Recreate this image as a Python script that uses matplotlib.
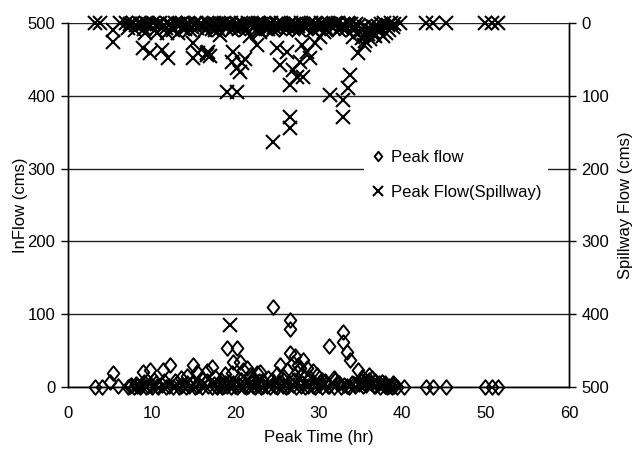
import matplotlib
matplotlib.use("Agg")
import matplotlib.pyplot as plt
from matplotlib.path import Path
from matplotlib import font_manager

names = {f.name for f in font_manager.fontManager.ttflist}
fam = ['Liberation Sans Narrow', 'Liberation Sans', 'DejaVu Sans']
fam = [f for f in fam if f in names] or ['DejaVu Sans']
plt.rcParams['font.family'] = fam

# ---------------- data ----------------
# Peak inflow (left axis): peak time (hr) and inflow (cms)
inflow_time = [3.2, 4.1, 6.0, 7.2, 7.6, 7.9, 8.3, 8.6, 8.9, 9.3, 9.6, 10.1, 10.5, 10.8,
               11.2, 11.7, 12.1, 12.6, 13.0, 13.3, 13.7, 14.1, 14.5, 14.8, 15.2, 15.7,
               16.1, 16.4, 16.8, 17.2, 17.5, 17.9, 18.2, 18.5, 18.8, 19.1, 19.5, 19.8,
               20.2, 20.5, 20.9, 21.3, 21.6, 22.0, 22.4, 22.7, 23.1, 23.5, 23.8, 24.2,
               24.6, 25.0, 25.3, 25.7, 26.1, 26.5, 26.9, 27.3, 27.7, 28.0, 28.4, 28.8,
               29.2, 29.6, 30.0, 30.4, 30.9, 31.3, 31.8, 32.2, 32.7, 33.1, 33.6, 34.0,
               34.4, 34.8, 35.1, 35.4, 35.7, 36.0, 36.3, 36.6, 37.0, 37.4, 37.8, 38.2,
               38.5, 38.8, 39.1, 39.4, 40.2, 42.9, 43.7, 45.3, 49.9, 50.8, 51.5,
               7.4, 8.1, 8.7, 9.1, 9.9, 10.7, 11.5, 13.5, 14.3, 15.5, 16.6, 17.7, 18.0,
               18.7, 19.3, 20.0, 20.7, 21.1, 21.9, 22.2, 22.9, 23.3, 24.4, 24.8, 25.5,
               26.3, 27.1, 27.9, 28.6, 29.4, 30.2, 31.1, 32.0, 33.4, 34.2, 35.3, 35.9,
               36.8, 37.6, 38.0, 38.9,
               5.0, 5.4, 9.0, 9.8, 10.3, 11.4, 12.2, 12.8, 13.5, 14.2, 15.0, 15.4, 16.0,
               16.6, 17.2, 17.6, 18.3, 18.8, 19.0, 20.2, 19.8, 20.6, 19.6, 21.0, 21.4,
               21.8, 22.6, 22.0, 23.0, 23.4, 24.0, 24.6, 25.0, 25.4, 25.8, 26.2, 26.6,
               26.6, 26.6, 27.0, 27.2, 27.4, 27.6, 28.2, 27.8, 28.0, 28.6, 29.0, 29.4,
               29.8, 30.4, 30.8, 31.3, 31.8, 32.4, 32.9, 32.9, 33.4, 33.8, 34.7, 35.2,
               35.6, 36.0, 36.4, 36.8, 37.2, 38.0, 39.0]
inflow_cms = [0, 0, 2, 0, 3, 0, 2, 0, 4, 0, 2, 0, 5, 0,
              3, 0, 2, 0, 6, 0, 3, 0, 2, 5, 0, 3,
              0, 6, 2, 0, 4, 0, 3, 0, 5, 2, 0, 6,
              0, 3, 5, 0, 2, 6, 0, 3, 0, 5, 2, 0,
              4, 0, 6, 2, 0, 5, 3, 0, 4, 6, 0, 2,
              5, 0, 3, 0, 4, 2, 0, 5, 0, 3, 0, 6,
              2, 4, 8, 5, 3, 9, 6, 2, 4, 0, 3, 0,
              2, 0, 2, 0, 0, 0, 0, 0, 0, 0, 0,
              1, 4, 1, 7, 3, 1, 8, 1, 6, 1, 8, 1, 4,
              1, 7, 1, 9, 1, 7, 1, 8, 1, 9, 1, 7,
              1, 9, 1, 8, 1, 7, 1, 9, 1, 4, 1, 7,
              1, 7, 1, 5,
              7, 19, 20, 23, 10, 23, 30, 8, 12, 15, 30, 20, 12,
              22, 28, 14, 10, 18, 53, 53, 35, 35, 19, 23, 26,
              16, 19, 10, 20, 8, 12, 110, 18, 30, 15, 24, 92,
              80, 47, 33, 42, 20, 30, 37, 26, 18, 26, 12, 22,
              16, 10, 8, 57, 12, 6, 76, 62, 48, 37, 23, 14,
              10, 16, 12, 8, 6, 5, 4]

# Peak spillway flow (right axis, inverted): peak time (hr) and flow (cms)
spill_time = [3.2, 3.8, 6.2, 7.0, 7.4, 7.8, 8.2, 8.5, 8.9, 9.4, 9.8, 10.2, 10.6, 11.0,
              11.5, 11.9, 12.4, 12.8, 13.2, 13.6, 14.0, 14.4, 14.8, 15.3, 15.8, 16.2,
              16.7, 17.1, 17.5, 17.9, 18.3, 18.7, 19.1, 19.5, 19.9, 20.3, 20.7, 21.1,
              21.5, 21.9, 22.3, 22.7, 23.1, 23.5, 23.9, 24.3, 24.7, 25.1, 25.5, 25.9,
              26.3, 26.7, 27.1, 27.5, 27.9, 28.3, 28.7, 29.1, 29.5, 29.9, 30.3, 30.7,
              31.1, 31.5, 31.9, 32.3, 32.7, 33.1, 33.5, 33.9, 34.3, 34.7, 35.1, 35.5,
              35.9, 36.3, 36.7, 37.1, 37.5, 37.9, 38.3, 38.7, 39.1, 39.8, 42.9, 43.7,
              45.3, 49.9, 50.8, 51.5,
              7.2, 7.6, 8.0, 8.7, 9.1, 9.6, 10.4, 10.9, 11.7, 12.2, 12.6, 13.4, 13.8,
              14.2, 14.6, 15.1, 15.5, 16.0, 16.4, 16.9, 17.3, 17.7, 18.1, 18.5, 18.9,
              19.3, 19.7, 20.1, 20.5, 20.9, 21.3, 21.7, 22.1, 22.5, 22.9, 23.3, 23.7,
              24.1, 24.5, 24.9, 25.3, 25.7, 26.1, 26.5, 26.9, 27.3, 27.7, 28.1, 28.5,
              28.9, 29.3, 29.7, 30.1, 30.5, 30.9, 31.3, 31.7, 32.1, 32.5, 32.9, 33.3,
              33.7, 34.1, 34.5, 35.0, 35.7, 36.1, 36.6, 37.3, 37.7, 38.1, 38.5, 38.9,
              5.4, 5.4, 9.0, 9.2, 9.8, 10.7, 11.3, 11.9, 12.0, 13.2, 14.0, 15.0, 15.0,
              15.6, 16.6, 16.6, 16.8, 17.0, 17.6, 18.2, 19.8, 19.6, 20.2, 20.8, 21.2,
              20.6, 21.8, 22.6, 23.0, 24.0, 19.0, 20.2, 25.0, 25.4, 26.2, 26.6, 27.0,
              27.4, 28.2, 27.8, 28.0, 28.6, 29.0, 29.6, 30.2, 30.6, 31.0, 24.6, 26.6,
              26.6, 31.4, 32.9, 32.9, 33.5, 33.8, 34.7, 34.1, 35.2, 35.4, 35.6, 35.9,
              36.2, 36.5, 36.8, 37.2, 19.4]
spill_cms = [0, 0, 0, 0, 2, 0, 3, 0, 2, 0, 4, 0, 2, 0,
             3, 0, 5, 0, 2, 0, 3, 0, 6, 0, 2, 4,
             0, 3, 0, 5, 2, 0, 3, 0, 6, 2, 0, 4,
             0, 3, 5, 0, 2, 0, 4, 0, 6, 2, 0, 3,
             5, 0, 2, 4, 0, 6, 3, 0, 2, 5, 0, 3,
             0, 4, 2, 0, 5, 3, 0, 2, 6, 4, 8, 5,
             10, 3, 6, 4, 2, 0, 3, 0, 2, 0, 0, 0,
             0, 0, 0, 0,
             7, 1, 9, 1, 8, 1, 10, 1, 7, 1, 9, 1, 8,
             1, 10, 1, 7, 1, 9, 1, 8, 1, 10, 1, 7,
             1, 9, 1, 8, 1, 10, 1, 7, 1, 9, 1, 8,
             1, 10, 1, 7, 1, 9, 1, 8, 1, 10, 1, 7,
             1, 9, 1, 8, 1, 10, 1, 7, 1, 9, 1, 8,
             1, 10, 1, 12, 14, 9, 16, 12, 18, 14, 9, 6,
             10, 26, 34, 14, 41, 14, 37, 14, 48, 14, 8, 28, 48,
             41, 41, 44, 40, 46, 10, 16, 40, 54, 62, 55, 50,
             67, 18, 30, 12, 8, 95, 95, 34, 58, 40, 85, 65,
             74, 74, 54, 30, 40, 48, 28, 19, 12, 8, 163, 129,
             144, 99, 106, 129, 89, 71, 41, 19, 20, 30, 25, 15,
             22, 12, 18, 8, 415]

x_ticks = [0, 10, 20, 30, 40, 50, 60]
y_ticks = [0, 100, 200, 300, 400, 500]

# ---------------- plot ----------------
fig = plt.figure(figsize=(6.38, 4.53), dpi=100)
ax = fig.add_axes([68/638, 1-387/453, (569-68)/638, (387-23)/453])
ax2 = ax.twinx()

diamond = Path([(0, 1), (0.8, 0), (0, -1), (-0.8, 0), (0, 1)],
               [Path.MOVETO, Path.LINETO, Path.LINETO, Path.LINETO, Path.CLOSEPOLY])

ax.set_xlim(0, 60)
ax.set_ylim(0, 500)
ax.set_xticks(x_ticks)
ax.set_yticks(y_ticks)
ax.grid(axis='y', color='#222222', linewidth=1.0)
ax.set_axisbelow(True)
h1, = ax.plot(inflow_time, inflow_cms, linestyle='none', marker=diamond,
              markersize=10.5, markerfacecolor='none', markeredgecolor='black',
              markeredgewidth=1.4, label='Peak flow', clip_on=False, zorder=3)

ax2.set_ylim(500, 0)
ax2.set_yticks(y_ticks)
h2, = ax2.plot(spill_time, spill_cms, linestyle='none', marker='x',
               markersize=10, markeredgecolor='black', markeredgewidth=1.5,
               label='Peak Flow(Spillway)', clip_on=False, zorder=3)

for a in (ax, ax2):
    a.spines['top'].set_visible(False)
    for s in ('left', 'right', 'bottom'):
        a.spines[s].set_color('black')
        a.spines[s].set_linewidth(1.0)
    a.tick_params(axis='y', direction='out', length=5, width=1, labelsize=12, pad=4)
    a.tick_params(axis='x', length=0, labelsize=12, pad=14)

ax.set_xlabel('Peak Time (hr)', fontsize=12, labelpad=6)
ax.set_ylabel('InFlow (cms)', fontsize=12, labelpad=0)
ax2.set_ylabel('Spillway Flow (cms)', fontsize=12, rotation=90, labelpad=6)

leg = ax2.legend(handles=[h1, h2], loc='center left',
                 bbox_to_anchor=(356/638, 1-175/453), bbox_transform=fig.transFigure,
                 frameon=True, framealpha=1, facecolor='white', edgecolor='none',
                 fontsize=12, labelspacing=1.2, handlelength=0.8, handletextpad=0.4,
                 borderpad=0.4, markerscale=0.65, fancybox=False)

fig.savefig('out.png', dpi=100)
